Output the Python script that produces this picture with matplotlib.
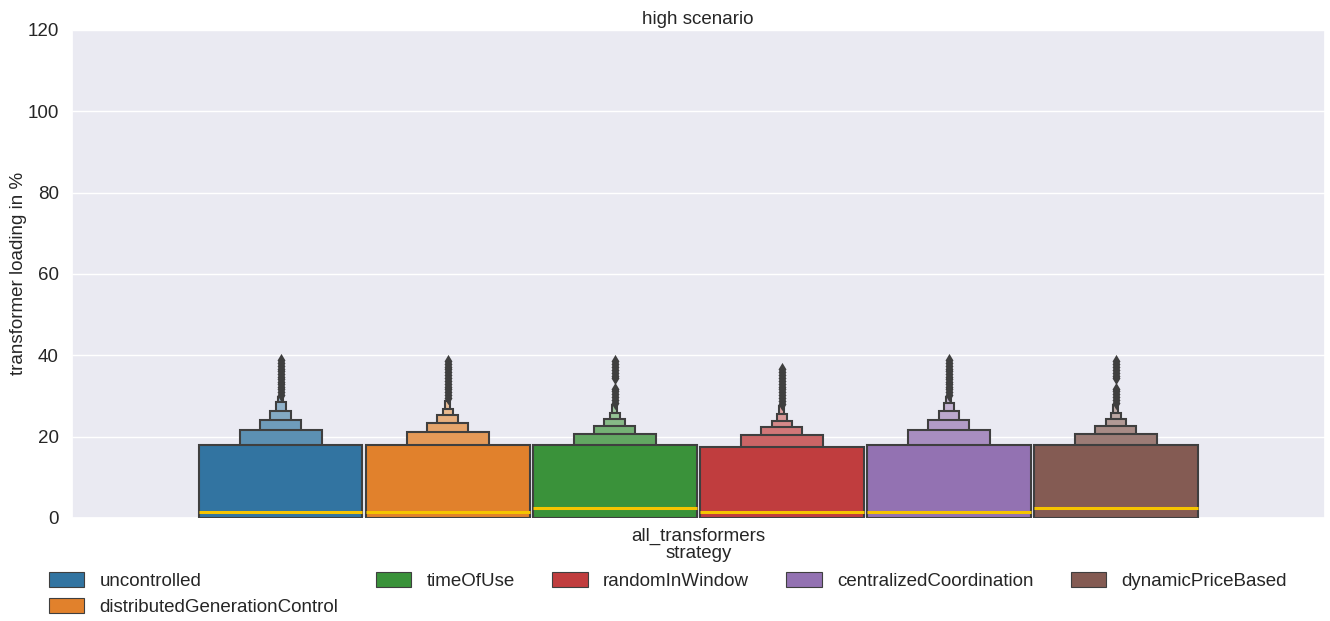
import numpy as np
import matplotlib
matplotlib.use("Agg")
import matplotlib.pyplot as plt
import matplotlib.colors as mcolors
from matplotlib.patches import Patch
import seaborn as sns

# strategies shown as hue inside the single category
category = "all_transformers"
strategies = ["uncontrolled", "distributedGenerationControl", "timeOfUse",
              "randomInWindow", "centralizedCoordination", "dynamicPriceBased"]
colors = ["#3274a1", "#e1812c", "#3a923a", "#c03d3e", "#9372b2", "#845b53"]

# upper edges of the letter-value boxes (lower edges all sit at 0)
uncontrolled_levels = [17.95, 21.6, 24.1, 26.2, 28.4, 29.7]
dgc_levels = [18.0, 21.1, 23.4, 25.4, 26.8, 28.8]
time_of_use_levels = [18.0, 20.6, 22.6, 24.3, 25.7, 27.7]
random_levels = [17.5, 20.3, 22.3, 23.9, 25.6, 27.5]
central_levels = [18.0, 21.6, 24.1, 26.2, 28.2, 29.7]
dynamic_levels = [18.0, 20.6, 22.6, 24.3, 25.9, 27.7]

medians = [1.5, 1.5, 2.5, 1.5, 1.5, 2.5]

# outliers above the last box
uncontrolled_out = [30.3, 30.9, 31.6, 32.2, 32.9, 33.5, 34.1, 34.7, 35.3, 36.0, 36.6, 37.3, 38.0, 38.7]
dgc_out = [29.5, 30.2, 30.9, 31.6, 32.3, 33.0, 33.7, 34.4, 35.1, 35.8, 36.5, 37.2, 37.9, 38.6]
time_of_use_out = [28.3, 29.0, 29.7, 30.4, 31.1, 31.8, 34.3, 35.0, 35.7, 36.4, 37.1, 37.9, 38.6]
random_out = [28.1, 28.8, 29.5, 30.2, 30.9, 31.6, 32.3, 33.0, 33.7, 34.4, 35.1, 35.8, 36.5]
central_out = [30.3, 30.9, 31.6, 32.2, 32.9, 33.5, 34.1, 34.7, 35.3, 36.0, 36.6, 37.3, 38.0, 38.7]
dynamic_out = [28.3, 29.0, 29.7, 30.4, 31.1, 31.8, 34.3, 35.0, 35.7, 36.4, 37.1, 37.9, 38.6]

levels = [uncontrolled_levels, dgc_levels, time_of_use_levels,
          random_levels, central_levels, dynamic_levels]
outliers = [uncontrolled_out, dgc_out, time_of_use_out,
            random_out, central_out, dynamic_out]

sns.set_theme(style="darkgrid")
fs = 13.5
plt.rcParams["font.family"] = ["Liberation Sans", "DejaVu Sans"]
plt.rcParams.update({"font.size": fs, "axes.labelsize": fs, "axes.titlesize": fs,
                     "xtick.labelsize": fs, "ytick.labelsize": fs,
                     "legend.fontsize": fs})

fig = plt.figure(figsize=(13.3, 6.21), dpi=100)
ax = fig.add_axes([0.054, 0.166, 0.942, 0.786])

edge = "#3f3f3f"
light = np.array(mcolors.to_rgb("#f2f2f2"))
n = len(strategies)
hue_w = 0.8 / n
fade = [0.0, 0.22, 0.32, 0.42, 0.5, 0.55]

for i, name in enumerate(strategies):
    x = -0.4 + hue_w * (i + 0.5)
    base = np.array(mcolors.to_rgb(colors[i]))
    full_w = hue_w * 0.98
    # narrowest (outermost) level first so the wide box covers it
    for k in reversed(range(len(levels[i]))):
        c = base * (1 - fade[k]) + light * fade[k]
        ax.bar(x, levels[i][k], width=full_w * 0.5 ** k, bottom=0,
               color=c, edgecolor=edge, linewidth=1.5, zorder=2 + (6 - k))
    ax.hlines(medians[i], x - full_w / 2, x + full_w / 2, color="#f5c400",
              linewidth=2.2, zorder=10)
    ax.scatter(np.full(len(outliers[i]), x), outliers[i], marker="d", s=45,
               color=edge, linewidths=0, zorder=10)

ax.set_xlim(-0.5, 0.5)
ax.set_ylim(0, 120)
ax.set_yticks(range(0, 121, 20))
ax.set_xticks([0])
ax.set_xticklabels([category])
ax.grid(axis="x", visible=False)
ax.tick_params(axis="x", length=4, width=1, color=edge, pad=3)
ax.set_xlabel("strategy", labelpad=0)
ax.set_ylabel("transformer loading in %", labelpad=0)
ax.set_title("high scenario", pad=4)

handles = [Patch(facecolor=c, edgecolor=edge, linewidth=0.8) for c in colors]
fig.legend(handles, strategies, loc="upper left", bbox_to_anchor=(0.031, 0.091),
           ncol=5, frameon=False, handlelength=1.9, handleheight=0.85,
           handletextpad=0.8, columnspacing=2.0, borderaxespad=0,
           labelspacing=0.42)

fig.savefig("out.png", dpi=100)
